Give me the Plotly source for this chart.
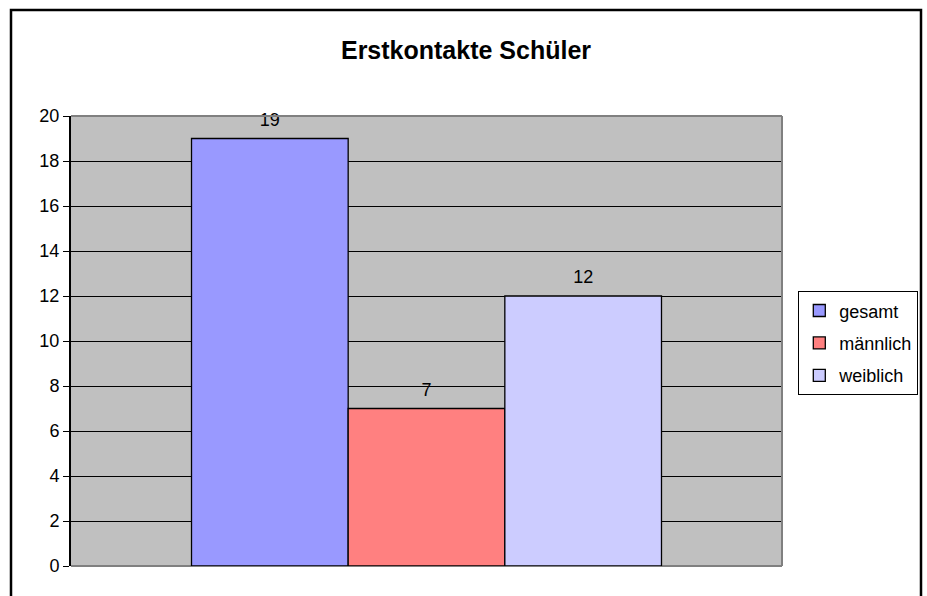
import plotly.graph_objects as go

series = ["gesamt", "männlich", "weiblich"]
values = [19, 7, 12]
colors = ["#9999FF", "#FF8080", "#CCCCFF"]
category = ["Erstkontakte"]
y_ticks = [0, 2, 4, 6, 8, 10, 12, 14, 16, 18, 20]

FONT = "Liberation Sans, Arial, sans-serif"

W, H = 927, 596
L, R, T, B = 71, 927 - 782, 116, 596 - 566
pw, ph = W - L - R, H - T - B

def px(x):  # page x -> paper
    return (x - L) / pw

def py(y):  # page y -> paper
    return (H - B - y) / ph

fig = go.Figure()
for name, val, col in zip(series, values, colors):
    fig.add_trace(go.Bar(
        x=category, y=[val], name=name, offsetgroup=name,
        marker=dict(color=col, line=dict(color="black", width=1.3)),
        legendgroup=name, hoverinfo="skip",
    ))
for name, val in zip(series, values):
    fig.add_trace(go.Scatter(
        x=category, y=[val], mode="markers+text", offsetgroup=name,
        marker=dict(size=12, opacity=0), text=[str(val)], textposition="top center",
        textfont=dict(family=FONT, size=18, color="black"),
        showlegend=False, cliponaxis=False, hoverinfo="skip",
    ))

shapes = [
    dict(type="rect", xref="paper", yref="paper", x0=px(11), x1=px(921), y0=py(640), y1=py(10),
         line=dict(color="black", width=2.5), layer="below"),
    dict(type="line", xref="paper", yref="paper", x0=0, x1=1, y0=1, y1=1,
         line=dict(color="#808080", width=2), layer="above"),
    dict(type="line", xref="paper", yref="paper", x0=1, x1=1, y0=0, y1=1,
         line=dict(color="#808080", width=2), layer="above"),
    dict(type="line", xref="paper", yref="paper", x0=0, x1=1, y0=0, y1=0,
         line=dict(color="#808080", width=2), layer="below"),
]

fig.update_layout(
    width=W, height=H,
    margin=dict(l=L, r=R, t=T, b=B, autoexpand=False),
    paper_bgcolor="white", plot_bgcolor="#C0C0C0",
    barmode="group", bargap=0.339, bargroupgap=0,
    scattermode="group", scattergap=0.339,
    title=dict(text="<b>Erstkontakte Schüler</b>", x=466 / W, xref="container", xanchor="center",
               y=1 - 50 / H, yref="container", yanchor="middle",
               font=dict(family=FONT, size=25, color="black")),
    font=dict(family=FONT, color="black"),
    showlegend=True,
    legend=dict(x=px(798), xanchor="left", y=py(291), yanchor="top",
                bgcolor="white", bordercolor="black", borderwidth=1.3,
                font=dict(family=FONT, size=18, color="black"),
                tracegroupgap=6, itemwidth=30,
                traceorder="grouped"),
    shapes=shapes,
    hovermode=False,
)
fig.update_xaxes(showticklabels=False, showgrid=False, zeroline=False, showline=False, ticks="")
fig.update_yaxes(range=[0, 20], tickvals=y_ticks, ticktext=[str(v) for v in y_ticks],
                 showgrid=True, gridcolor="black", gridwidth=1.3, zeroline=False,
                 showline=True, linecolor="black", linewidth=2,
                 ticks="outside", ticklen=6, tickcolor="black", tickwidth=1.3,
                 tickfont=dict(family=FONT, size=18, color="black"))

fig.write_html(
    "out.html",
    config={"displayModeBar": False},
    post_script="document.body.style.margin='0';document.body.style.overflow='hidden';",
)
